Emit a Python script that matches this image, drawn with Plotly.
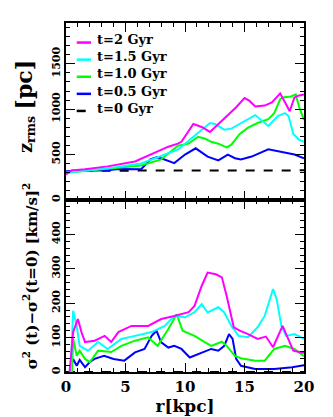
import plotly.graph_objects as go
from plotly.subplots import make_subplots

# upper panel: z_rms [pc] vs r [kpc]
r_z_2 = [0, 0.45, 1.6, 3.5, 5.8, 7.1, 8.6, 9.4, 9.7, 10.7, 11.4, 12.1, 12.8, 13.6, 14.3, 15.0, 15.4, 15.9, 16.7, 17.3, 18.0, 18.4, 18.8, 19.2, 19.6, 20]
z_2 = [280, 326, 337, 370, 424, 500, 587, 620, 641, 837, 804, 750, 837, 946, 1022, 1123, 1094, 1029, 1040, 1076, 1174, 1076, 978, 1130, 1152, 1163]

r_z_15 = [0, 1.5, 3.5, 6.3, 8.3, 9.4, 10.0, 10.7, 11.4, 12.1, 12.5, 13.3, 13.9, 14.9, 15.9, 17.0, 17.8, 18.4, 18.7, 19.1, 19.6, 20]
z_15 = [300, 320, 348, 402, 500, 554, 620, 696, 772, 848, 837, 775, 786, 859, 935, 815, 924, 957, 924, 728, 663, 641]

r_z_10 = [0, 1.5, 3.5, 6.3, 8.0, 8.6, 9.4, 10.3, 11.1, 11.7, 12.2, 12.8, 13.5, 13.9, 14.6, 15.3, 16.1, 17.0, 17.5, 18.0, 18.2, 18.9, 19.3, 19.6, 20]
z_10 = [300, 320, 348, 380, 446, 511, 598, 620, 696, 674, 641, 620, 580, 609, 728, 797, 848, 891, 957, 1112, 1130, 1141, 1163, 1022, 880]

r_z_05 = [0, 2.0, 3.5, 4.4, 5.2, 6.3, 7.1, 7.6, 8.0, 8.6, 9.1, 10.0, 10.9, 11.9, 12.8, 13.6, 14.2, 14.7, 15.6, 17.0, 18.1, 19.2, 20]
z_05 = [315, 320, 326, 340, 337, 337, 446, 470, 460, 430, 406, 500, 569, 478, 435, 500, 460, 446, 478, 558, 533, 500, 460]

r_z_0 = [0, 0.5, 20]
z_0 = [300, 322, 326]

# lower panel: sigma^2(t) - sigma^2(t=0) [km/s]^2
r_s_2 = [0.3, 0.6, 1.0, 1.3, 1.6, 2.4, 3.25, 3.8, 4.4, 5.5, 6.9, 8.0, 9.1, 10.3, 10.8, 11.4, 11.9, 12.6, 13.1, 13.5, 14.1, 14.6, 15.3, 16.1, 16.8, 17.4, 18.2, 18.7, 19.1, 20]
s_2 = [0, 116, 154, 116, 87, 91, 105, 87, 116, 134, 134, 154, 163, 174, 192, 250, 289, 284, 275, 221, 130, 120, 110, 96, 103, 72, 134, 96, 62, 55]

r_s_15 = [0.4, 0.6, 0.9, 1.15, 1.85, 2.7, 3.5, 4.65, 5.8, 7.2, 8.3, 9.1, 10.0, 10.8, 11.4, 11.9, 12.8, 13.3, 13.9, 14.5, 15.3, 15.7, 16.1, 16.7, 17.1, 17.4, 17.7, 18.1, 18.5, 19.2, 20]
s_15 = [0, 178, 134, 76, 62, 87, 67, 96, 105, 116, 134, 163, 159, 174, 197, 173, 188, 173, 134, 105, 101, 116, 130, 163, 212, 241, 212, 134, 105, 110, 96]

r_s_10 = [0.5, 0.6, 0.9, 1.15, 1.6, 2.0, 2.7, 3.8, 4.65, 5.8, 6.9, 7.7, 8.6, 9.3, 9.8, 10.8, 11.7, 12.2, 13.1, 13.5, 14.2, 14.7, 15.9, 16.7, 17.5, 18.4, 19.2, 20]
s_10 = [0, 96, 47, 62, 38, 29, 62, 58, 76, 91, 101, 76, 125, 168, 120, 105, 86, 76, 88, 76, 47, 40, 33, 33, 67, 76, 67, 46]

r_s_05 = [0.3, 0.6, 0.9, 1.15, 1.6, 2.0, 2.4, 3.2, 4.0, 4.9, 5.8, 6.6, 7.2, 7.6, 8.0, 8.6, 9.1, 9.7, 10.4, 11.4, 12.2, 12.8, 13.3, 13.7, 14.0, 14.3, 14.7, 15.9, 17.5, 19.0, 20]
s_05 = [0, 38, 18, 35, 14, 29, 38, 47, 38, 33, 57, 67, 105, 120, 86, 71, 76, 67, 42, 57, 67, 62, 76, 110, 96, 38, 18, 9, 9, 14, 20]

r_s_0 = [0, 20]
s_0 = [0, 0]

labels = ["t=2 Gyr", "t=1.5 Gyr", "t=1.0 Gyr", "t=0.5 Gyr", "t=0 Gyr"]
colors = ["#ff00ff", "#00ffff", "#00ff00", "#0000ff", "#000000"]

ticks_z = [0, 500, 1000, 1500]
ticks_s = [0, 100, 200, 300, 400]

FONT = "DejaVu Serif"

fig = make_subplots(rows=2, cols=1, shared_xaxes=True, vertical_spacing=0,
                    row_heights=[0.507, 0.493])

top = [(r_z_0, z_0), (r_z_05, z_05), (r_z_10, z_10), (r_z_15, z_15), (r_z_2, z_2)]
bot = [(r_s_0, s_0), (r_s_05, s_05), (r_s_10, s_10), (r_s_15, s_15), (r_s_2, s_2)]
order = [4, 3, 2, 1, 0]  # draw t=0 first, t=2 last

for k, (rx, vy) in zip(order, top):
    fig.add_trace(go.Scatter(x=rx, y=vy, mode="lines", showlegend=False,
                             line=dict(color=colors[k], width=2,
                                       dash="dash" if k == 4 else "solid")),
                  row=1, col=1)
for k, (rx, vy) in zip(order, bot):
    fig.add_trace(go.Scatter(x=rx, y=vy, mode="lines", showlegend=False,
                             line=dict(color=colors[k], width=2,
                                       dash="dash" if k == 4 else "solid")),
                  row=2, col=1)

axis_common = dict(showline=True, linecolor="black", linewidth=1.5, mirror="ticks",
                   ticks="inside", ticklen=9, tickwidth=1.2, tickcolor="black",
                   showgrid=False, zeroline=False)
yfont = dict(family=FONT, size=11, color="black", weight="bold")

fig.update_xaxes(range=[0, 20], dtick=5, tick0=0,
                 minor=dict(dtick=1, ticks="inside", ticklen=4, tickcolor="black"),
                 **axis_common)
fig.update_xaxes(showticklabels=False, row=1, col=1)
fig.update_xaxes(showticklabels=True, row=2, col=1,
                 tickfont=dict(family=FONT, size=15, color="black", weight="bold"),
                 title=dict(text="r[kpc]", standoff=0,
                            font=dict(family=FONT, size=17, color="black", weight="bold")))

fig.update_yaxes(range=[0, 1950], tickvals=ticks_z, tickangle=-90, tickfont=yfont,
                 minor=dict(dtick=100, ticks="inside", ticklen=4, tickcolor="black"),
                 row=1, col=1, **axis_common)
fig.update_yaxes(range=[0, 500], tickvals=ticks_s, tickangle=-90, tickfont=yfont,
                 minor=dict(dtick=20, ticks="inside", ticklen=4, tickcolor="black"),
                 row=2, col=1, **axis_common)

# y titles, rotated, beside each panel
fig.add_annotation(text="<b>z<sub>rms</sub> <span style='font-size:22px'>[pc]</span></b>",
                   xref="paper", yref="paper", x=-0.175, y=0.76,
                   xanchor="center", yanchor="middle", textangle=-90, showarrow=False,
                   font=dict(family=FONT, size=18, color="black"))
fig.add_annotation(text="<b>σ<sup>2</sup> (t)−σ<sup>2</sup>(t=0) [km/s]<sup>2</sup></b>",
                   xref="paper", yref="paper", x=-0.15, y=0.275,
                   xanchor="center", yanchor="middle", textangle=-90, showarrow=False,
                   font=dict(family=FONT, size=15, color="black"))

# legend drawn by hand in the top-left corner of the upper panel
for i, (lab, col) in enumerate(zip(labels, colors)):
    yy = 0.952 - i * 0.049
    fig.add_shape(type="line", xref="paper", yref="paper",
                  x0=0.045, x1=0.105, y0=yy - 0.008, y1=yy - 0.008,
                  line=dict(color=col, width=2.5, dash="dash" if i == 4 else "solid"))
    fig.add_annotation(text=lab, xref="paper", yref="paper", x=0.12, y=yy,
                       xanchor="left", yanchor="middle", showarrow=False,
                       font=dict(family=FONT, size=13, color="black", weight="bold"))

fig.update_layout(width=333, height=417, margin=dict(l=58, r=37, t=15, b=53),
                  plot_bgcolor="white", paper_bgcolor="white", showlegend=False)

fig.write_html("out.html")
